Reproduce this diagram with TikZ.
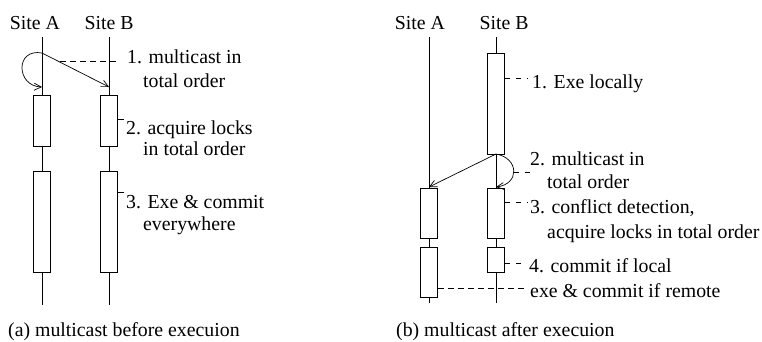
\documentclass[tikz,border=0pt]{standalone}
\usepackage{fontspec}
\setmainfont{Liberation Serif}
\usetikzlibrary{arrows.meta}
\begin{document}
\begin{tikzpicture}[x=1pt,y=-1pt,
  life/.style={line width=0.8pt},
  actbox/.style={draw, fill=white, line width=0.8pt, inner sep=0pt, minimum width=17pt},
  lbl/.style={anchor=base west, inner sep=0pt, font=\fontsize{19.8}{23}\selectfont},
  ttl/.style={anchor=base, inner sep=0pt, font=\fontsize{19.8}{23}\selectfont},
  msg/.style={line width=0.7pt, -{Straight Barb[length=7pt,width=7pt]}},
  lead/.style={line width=0.7pt, dash pattern=on 6pt off 4pt},
  rlead/.style={line width=0.7pt, dash pattern=on 5pt off 6pt},
  tick/.style={line width=0.7pt}
]
\useasboundingbox (0,0) rectangle (762,341);

% ---------- (a) ----------
\node[ttl] (tA) at (35,29) {Site A};
\node[ttl] (tB) at (109,29) {Site B};
\coordinate (aTop) at (42,37);  \coordinate (aBot) at (42,305);
\coordinate (bTop) at (109,37); \coordinate (bBot) at (109,305);
\draw[life] (aTop) -- (aBot);
\draw[life] (bTop) -- (bBot);
\node[actbox, minimum height=51pt]  (a1) at (42,120.5) {};
\node[actbox, minimum height=101pt] (a2) at (42,221.5) {};
\node[actbox, minimum height=51pt]  (b1) at (109,120.5) {};
\node[actbox, minimum height=101pt] (b2) at (109,221.5) {};
\coordinate (aS) at (42,53);
\coordinate (aE) at (42,87);
\coordinate (bE) at (109,87);
\draw[msg] (aS) -- (bE);
\draw[msg] (aS) .. controls (15,48) and (16,86) .. (aE);
\coordinate (d1s) at (60,61);
\coordinate (d1e) at (119,61);
\draw[lead] (d1s) -- (d1e);
\node[lbl] (l1) at (127,63) {1. multicast in};
\node[lbl] (l1b) at (143,87) {total order};
\node[lbl] (l2) at (126,134) {2. acquire locks};
\node[lbl] (l2b) at (143,155) {in total order};
\coordinate (t2) at (124,119);
\draw[tick] (b1.east |- t2) -- (t2);
\node[lbl] (l3) at (126,208) {3. Exe \& commit};
\node[lbl] (l3b) at (143,230) {everywhere};
\coordinate (t3) at (124,192);
\draw[tick] (b2.east |- t3) -- (t3);
\node[lbl] (ca) at (8,336) {(a) multicast before execuion};

% ---------- (b) ----------
\node[ttl] (rtA) at (420,29) {Site A};
\node[ttl] (rtB) at (504,29) {Site B};
\coordinate (raTop) at (429,37);  \coordinate (raBot) at (429,303);
\coordinate (rbTop) at (496,37);  \coordinate (rbBot) at (496,303);
\draw[life] (raTop) -- (raBot);
\draw[life] (rbTop) -- (rbBot);
\node[actbox, minimum height=101pt] (rb0) at (496,103.5) {};
\node[actbox, minimum height=50pt] (ra1) at (429,213) {};
\node[actbox, minimum height=50pt] (rb1) at (496,213) {};
\node[actbox, minimum height=50pt] (ra2) at (429,272) {};
\node[actbox, minimum height=25pt] (rb2) at (496,259.5) {};
\coordinate (rS) at (496,154);
\coordinate (raE) at (429,187);
\coordinate (rbE) at (496,187);
\draw[msg] (rS) -- (raE);
\draw[msg] (rS) .. controls (519,158) and (520,184) .. (rbE);
\node[lbl] (r1) at (532,88) {1. Exe locally};
\coordinate (e1) at (527,78);
\draw[rlead] (rb0.east |- e1) -- (e1);
\node[lbl] (r2) at (530,165) {2. multicast in};
\node[lbl] (r2b) at (547,188) {total order};
\coordinate (rL) at (514,172);
\coordinate (e2) at (530,172);
\draw[rlead] (rL) -- (e2);
\node[lbl] (r3) at (530,213) {3. conflict detection,};
\node[lbl] (r3b) at (547,238) {acquire locks in total order};
\coordinate (e3) at (527,202);
\draw[rlead] (rb1.east |- e3) -- (e3);
\node[lbl] (r4) at (529,272) {4. commit if local};
\coordinate (e4) at (526,263);
\draw[rlead] (rb2.east |- e4) -- (e4);
\node[lbl] (r5) at (530,297) {exe \& commit if remote};
\coordinate (e5) at (527,288);
\draw[lead] (ra2.east |- e5) -- (e5);
\node[lbl] (cb) at (396,336) {(b) multicast after execuion};
\end{tikzpicture}
\end{document}
